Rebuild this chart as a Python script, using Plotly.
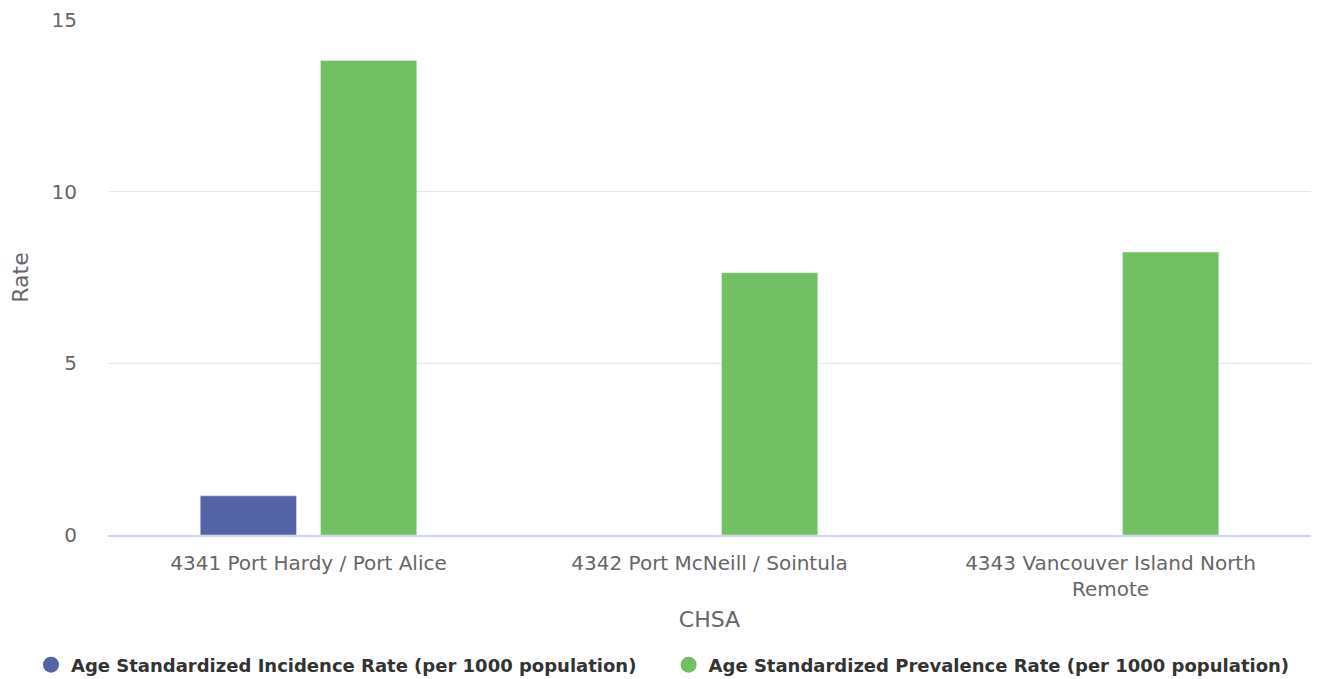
import plotly.graph_objects as go

categories = ["4341 Port Hardy / Port Alice", "4342 Port McNeill / Sointula", "4343 Vancouver Island North<br>Remote"]
incidence = [1.14, None, None]
prevalence = [13.82, 7.64, 8.24]
series_names = ["Age Standardized Incidence Rate (per 1000 population)", "Age Standardized Prevalence Rate (per 1000 population)"]
colors = ["#5463a6", "#72c063"]
y_ticks = [0, 5, 10, 15]

FONT = "DejaVu Sans"

fig = go.Figure()
fig.add_trace(go.Bar(x=categories, y=incidence, name=series_names[0], marker_color=colors[0], showlegend=False))
fig.add_trace(go.Bar(x=categories, y=prevalence, name=series_names[1], marker_color=colors[1], showlegend=False))
legend_ids = ["legend", "legend2"]
for name, c, lg in zip(series_names, colors, legend_ids):
    fig.add_trace(go.Scatter(x=[None], y=[None], mode="markers", name=name, legend=lg,
                             marker=dict(symbol="circle", size=17, color=c)))

legend_font = dict(family=FONT, size=18, color="#333333", weight="bold")
fig.update_layout(
    width=1303, height=671,
    margin=dict(l=100, r=0, t=12, b=144, autoexpand=False),
    plot_bgcolor="white", paper_bgcolor="white",
    barmode="group", bargap=0.4, bargroupgap=0.2,
    font=dict(family=FONT, color="#666666", size=20),
    legend=dict(orientation="h", x=-0.064, xanchor="left", y=-0.2524, yanchor="middle",
                font=legend_font, itemwidth=30),
    legend2=dict(orientation="h", x=0.466, xanchor="left", y=-0.2524, yanchor="middle",
                 font=legend_font, itemwidth=30),
    xaxis=dict(showgrid=False, showline=True, linecolor="#ccd6eb", linewidth=2,
               tickfont=dict(size=20, color="#666666"), ticks="", ticklabelstandoff=9,
               title=dict(text="CHSA", font=dict(size=22, color="#666666"), standoff=12),
               automargin=False),
    yaxis=dict(range=[0, 15], tickvals=y_ticks, showgrid=True, gridcolor="#e6e6e6", gridwidth=1,
               zeroline=False, showline=False, tickfont=dict(size=20, color="#666666"),
               ticklabelstandoff=30, automargin=False,
               title=dict(text="Rate", font=dict(size=22, color="#666666"), standoff=16)),
)

fig.write_html("out.html")
